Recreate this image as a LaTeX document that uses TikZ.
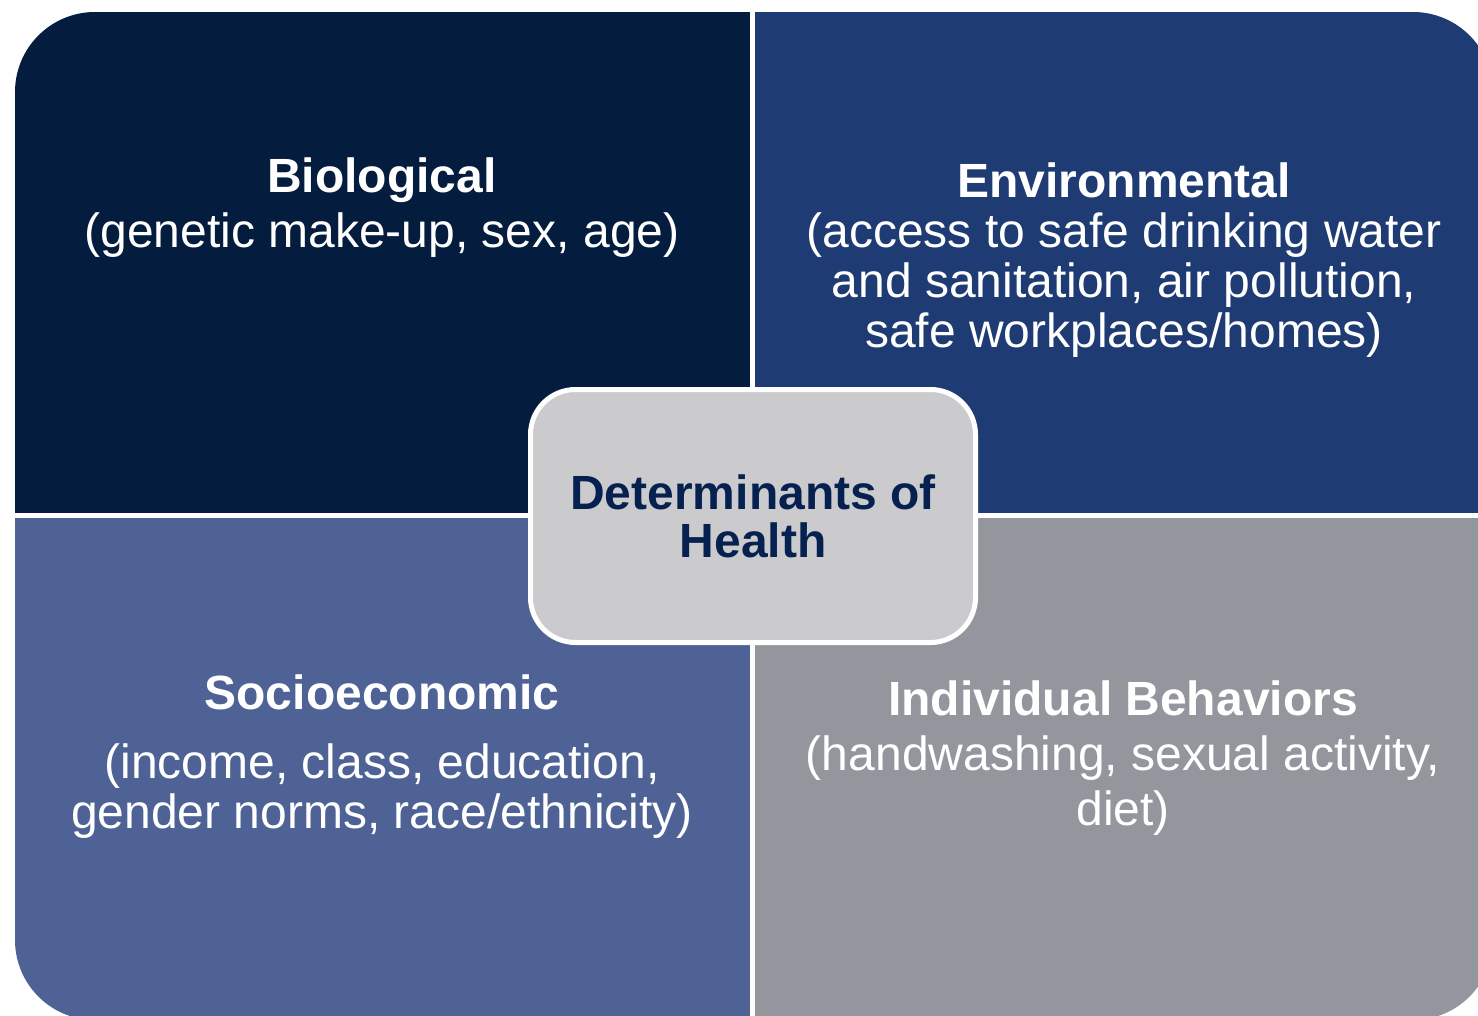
\documentclass[tikz,border=0pt]{standalone}
\usepackage{fontspec}
\setmainfont{Liberation Sans}

\definecolor{bionavy}{RGB}{4,28,62}
\definecolor{envblue}{RGB}{30,59,115}
\definecolor{socioblue}{RGB}{78,98,150}
\definecolor{behavgray}{RGB}{148,150,158}
\definecolor{hubgray}{RGB}{203,203,205}
\definecolor{hubtext}{RGB}{6,33,80}

\tikzset{
  quadtext/.style={text=white, align=center, anchor=base, font=\fontsize{48}{50}\selectfont},
  hub/.style={draw=white, line width=5pt, fill=hubgray, rounded corners=45pt,
    minimum width=445pt, minimum height=253pt, align=center, text=hubtext,
    font=\bfseries\fontsize{48}{48}\selectfont}
}

\begin{document}
\begin{tikzpicture}[x=1pt,y=-1pt]
  \useasboundingbox (0,0) rectangle (1478,1015);
  \fill[white] (0,0) rectangle (1478,1015);

  % four quadrants inside one rounded frame
  \begin{scope}
    \clip (0,0) rectangle (1478,1015);
    \clip[rounded corners=80pt] (15,12) rectangle (1493,1020);
    \fill[bionavy] (15,12) rectangle (750,513); % top left
    \fill[envblue] (755,12) rectangle (1493,513); % top right
    \fill[socioblue] (15,518) rectangle (750,1020); % bottom left
    \fill[behavgray] (755,518) rectangle (1493,1020); % bottom right
  \end{scope}

  % labels (base = baseline of last line)
  \node[quadtext] (bio) at (382,247) {\textbf{Biological}\\[5pt]
    (genetic make-up, sex, age)};
  \node[quadtext] (env) at (1124,347) {\textbf{Environmental}\\
    (access to safe drinking water\\ and sanitation, air pollution,\\
    safe workplaces/homes)};
  \node[quadtext] (socio) at (382,828) {\textbf{Socioeconomic}\\[19pt]
    (income, class, education,\\ gender norms, race/ethnicity)};
  \node[quadtext] (behav) at (1123,825) {\textbf{Individual Behaviors}\\[5pt]
    (handwashing, sexual activity,\\[5pt] diet)};

  % centre box
  \node[hub] (hub) at (753,516) {Determinants of\\Health};
\end{tikzpicture}
\end{document}
